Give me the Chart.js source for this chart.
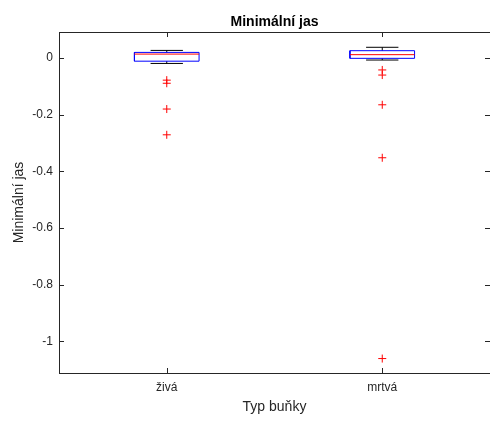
<!DOCTYPE html>
<html>
<head>
<meta charset="utf-8">
<script src="https://cdn.jsdelivr.net/npm/chart.js@4/dist/chart.umd.min.js"></script>
<style>
  html, body { margin: 0; padding: 0; background: #ffffff; }
  canvas { display: block; }
</style>
</head>
<body>
<canvas id="chart" width="490" height="421"></canvas>
<script>
// Box plot of minimum brightness per cell type
const categories = ['živá', 'mrtvá'];
const upperWhisker = [0.027, 0.038];
const upperQuartile = [0.020, 0.026];
const median = [0.014, 0.012];
const lowerQuartile = [-0.011, -0.001];
const lowerWhisker = [-0.019, -0.007];
const outliersZiva = [-0.078, -0.089, -0.180, -0.271];
const outliersMrtva = [-0.042, -0.060, -0.165, -0.352, -1.061];
const yTickValues = [-1, -0.8, -0.6, -0.4, -0.2, 0];

const FONT = 'Liberation Sans, Arial, Helvetica, sans-serif';
const INK = '#262626';
const BOX_HALF = 0.15;   // half box width in category units
const CAP_HALF = 0.075;  // half whisker-cap width

const positions = categories.map((_, i) => i + 1);
const outlierSets = [outliersZiva, outliersMrtva];

// helpers producing polyline points, separated by gaps
const gap = (x) => ({ x: x, y: null });

const boxPts = [], medPts = [], whiskerPts = [], capPts = [], outPts = [];
positions.forEach((p, i) => {
  boxPts.push(
    { x: p - BOX_HALF, y: lowerQuartile[i] }, { x: p + BOX_HALF, y: lowerQuartile[i] },
    { x: p + BOX_HALF, y: upperQuartile[i] }, { x: p - BOX_HALF, y: upperQuartile[i] },
    { x: p - BOX_HALF, y: lowerQuartile[i] }, gap(p));
  medPts.push({ x: p - BOX_HALF, y: median[i] }, { x: p + BOX_HALF, y: median[i] }, gap(p));
  whiskerPts.push({ x: p, y: upperQuartile[i] }, { x: p, y: upperWhisker[i] }, gap(p),
                  { x: p, y: lowerQuartile[i] }, { x: p, y: lowerWhisker[i] }, gap(p));
  capPts.push({ x: p - CAP_HALF, y: upperWhisker[i] }, { x: p + CAP_HALF, y: upperWhisker[i] }, gap(p),
              { x: p - CAP_HALF, y: lowerWhisker[i] }, { x: p + CAP_HALF, y: lowerWhisker[i] }, gap(p));
  outlierSets[i].forEach(v => outPts.push({ x: p, y: v }));
});

const lineDs = (data, color, extra) => Object.assign({
  type: 'line', data: data, borderColor: color, borderWidth: 1,
  pointRadius: 0, pointHoverRadius: 0, fill: false, tension: 0, spanGaps: false
}, extra || {});

// inward tick marks and the axes frame
const axesFrame = {
  id: 'axesFrame',
  afterDatasetsDraw(chart) {
    const { ctx, chartArea: { left, right, top, bottom }, scales: { x, y } } = chart;
    const len = 5;
    ctx.save();
    ctx.strokeStyle = INK;
    ctx.lineWidth = 1;
    ctx.beginPath();
    y.ticks.forEach((t, i) => {
      const py = Math.round(y.getPixelForTick(i)) + 0.5;
      ctx.moveTo(left, py); ctx.lineTo(left + len, py);
      ctx.moveTo(right, py); ctx.lineTo(right - len, py);
    });
    x.ticks.forEach((t, i) => {
      const px = Math.round(x.getPixelForTick(i)) + 0.5;
      ctx.moveTo(px, bottom); ctx.lineTo(px, bottom - len);
      ctx.moveTo(px, top); ctx.lineTo(px, top + len);
    });
    ctx.stroke();
    ctx.strokeRect(Math.round(left) + 0.5, Math.round(top) + 0.5,
                   Math.round(right - left), Math.round(bottom - top));
    ctx.restore();
  }
};

new Chart(document.getElementById('chart'), {
  type: 'scatter',
  data: {
    datasets: [
      {
        type: 'scatter', data: outPts, pointStyle: 'cross', pointRadius: 4,
        pointHoverRadius: 4, borderColor: '#ff0000', backgroundColor: '#ff0000', borderWidth: 1
      },
      lineDs(medPts, '#ff0000'),
      lineDs(boxPts, '#0000ff'),
      lineDs(capPts, '#000000'),
      lineDs(whiskerPts, '#000000', { borderDash: [4, 3] })
    ]
  },
  options: {
    responsive: false,
    animation: false,
    events: [],
    layout: { autoPadding: false, padding: { left: 0, right: 0, top: 0, bottom: 5.6 } },
    plugins: {
      legend: { display: false },
      tooltip: { enabled: false },
      title: {
        display: true, text: 'Minimální jas', color: '#000000', fullSize: false,
        font: { family: FONT, size: 14, weight: 'bold' },
        padding: { top: 13.7, bottom: 1.5 }
      }
    },
    scales: {
      x: {
        type: 'linear', min: 0.5, max: 2.5,
        afterBuildTicks: (s) => { s.ticks = positions.map(v => ({ value: v })); },
        afterFit: (s) => { s.height = 42.4; },
        grid: { display: false, drawTicks: false },
        border: { display: false },
        ticks: {
          color: INK, padding: 7, font: { family: FONT, size: 12 },
          maxRotation: 0, autoSkip: false,
          callback: (v) => categories[positions.indexOf(v)]
        },
        title: {
          display: true, text: 'Typ buňky', color: INK,
          font: { family: FONT, size: 14 }, padding: { top: 0, bottom: 0 }
        }
      },
      y: {
        type: 'linear', min: -1.112, max: 0.092,
        afterBuildTicks: (s) => { s.ticks = yTickValues.map(v => ({ value: v })); },
        afterFit: (s) => { s.width = 59; },
        grid: { display: false, drawTicks: false },
        border: { display: false },
        ticks: {
          color: INK, padding: 6, font: { family: FONT, size: 12 },
          callback: (v) => String(v)
        },
        title: {
          display: true, text: 'Minimální jas', color: INK,
          font: { family: FONT, size: 14 }, padding: { top: 10.6, bottom: 0 }
        }
      }
    }
  },
  plugins: [axesFrame]
});
</script>
</body>
</html>
